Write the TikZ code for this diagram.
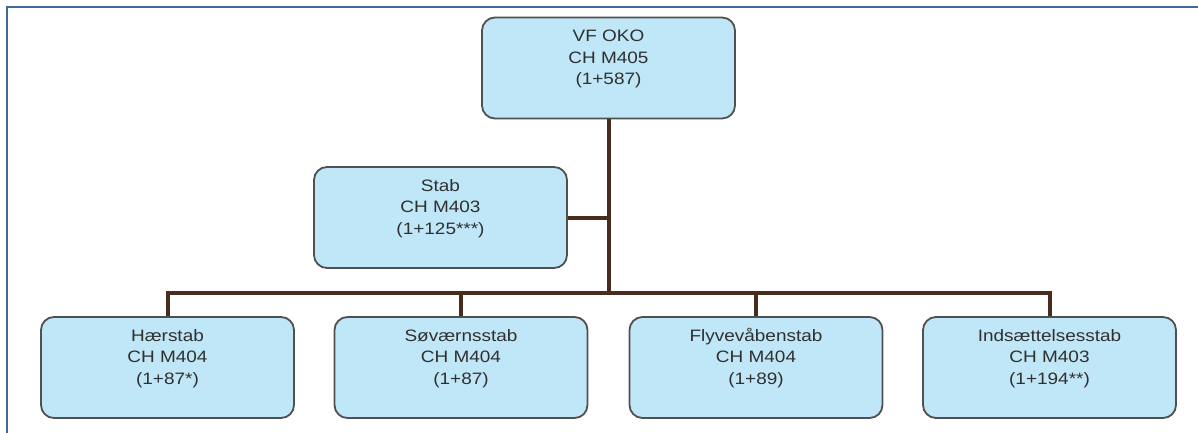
\documentclass[tikz,border=0pt]{standalone}
\usepackage{fontspec}
\setmainfont[FakeStretch=1.15]{Liberation Sans}
\definecolor{boxfill}{RGB}{192,231,247}
\definecolor{boxdraw}{RGB}{80,80,80}
\definecolor{txtcol}{RGB}{48,48,48}
\definecolor{conncol}{RGB}{74,44,30}
\definecolor{framecol}{RGB}{65,105,155}
\tikzset{
  orgbox/.style={rectangle, rounded corners=13pt, draw=boxdraw, line width=1.8pt,
    fill=boxfill, minimum width=253pt, minimum height=101pt, inner sep=0pt},
  orgtext/.style={anchor=north, align=center, inner sep=0pt, text=txtcol,
    font=\fontsize{16.5}{21.5}\selectfont},
  conn/.style={draw=conncol, line width=4pt},
  framestyle/.style={draw=framecol, line width=2.5pt}
}
\newcommand{\toprow}{\vphantom{Å}}
\begin{document}
\begin{tikzpicture}[x=1pt,y=-1pt]
\useasboundingbox (0,0) rectangle (1198,433);
\fill[white] (0,0) rectangle (1198,433);
% frame
\coordinate (frBL) at (7,434);
\coordinate (frTL) at (7,7);
\coordinate (frTR) at (1199,7);
\draw[framestyle] (frBL) -- (frTL) -- (frTR);
% boxes
\node[orgbox] (vf) at (608.5,68) {};
\node[orgbox] (stab) at (440.5,217.5) {};
\node[orgbox] (h) at (167.5,367.5) {};
\node[orgbox] (s) at (461,367.5) {};
\node[orgbox] (f) at (756,367.5) {};
\node[orgbox] (i) at (1049.5,367.5) {};
% connectors
\coordinate (bus) at (608.5,292.5);
\draw[conn] (vf.south) -- (vf.south |- bus);
\draw[conn] (stab.east) -- (stab.east -| vf.south);
\draw[conn] (h.north) |- (i.north |- bus) -- (i.north);
\draw[conn] (s.north) -- (s.north |- bus);
\draw[conn] (f.north) -- (f.north |- bus);
% texts
\node[orgtext] (vft) at ([yshift=-10.5pt]vf.north) {\toprow VF OKO\\CH M405\\(1+587)};
\node[orgtext] (stabt) at ([yshift=-10.5pt]stab.north) {\toprow Stab\\CH M403\\(1+125***)};
\node[orgtext] (ht) at ([yshift=-10.5pt]h.north) {\toprow Hærstab\\CH M404\\(1+87*)};
\node[orgtext] (st) at ([yshift=-10.5pt]s.north) {\toprow Søværnsstab\\CH M404\\(1+87)};
\node[orgtext] (ft) at ([yshift=-10.5pt]f.north) {\toprow Flyvevåbenstab\\CH M404\\(1+89)};
\node[orgtext] (it) at ([yshift=-10.5pt]i.north) {\toprow Indsættelsesstab\\CH M403\\(1+194**)};
\end{tikzpicture}
\end{document}
